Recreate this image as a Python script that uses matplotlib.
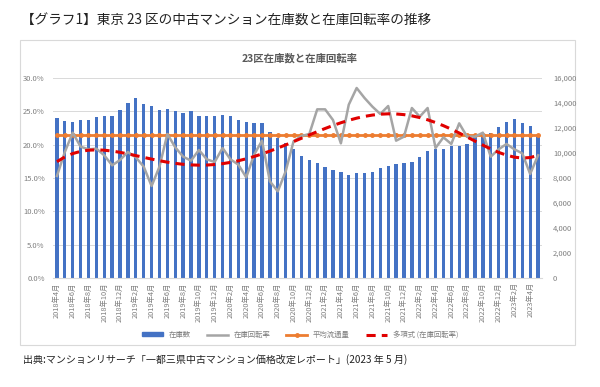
import numpy as np
import matplotlib
matplotlib.use("Agg")
import matplotlib.pyplot as plt
from matplotlib.patches import Rectangle
from matplotlib.lines import Line2D

plt.rcParams['font.family'] = ['Noto Sans CJK JP', 'DejaVu Sans']

# months 2018-04 .. 2023-05
months = []
y, m = 2018, 4
for i in range(62):
    months.append(f"{y}年{m}月")
    m += 1
    if m > 12:
        m = 1
        y += 1

# 在庫数 (right axis)
stock = [12780, 12560, 12510, 12670, 12640, 12880, 12990, 12990, 13470, 14030,
         14430, 13950, 13790, 13440, 13490, 13360, 13170, 13390, 12960, 12960,
         12960, 13070, 12960, 12670, 12450, 12430, 12370, 11710, 11170, 10800,
         10290, 9770, 9440, 9170, 8910, 8610, 8480, 8270, 8400, 8370,
         8480, 8800, 8960, 9120, 9170, 9280, 9680, 10190, 10350, 10350,
         10560, 10560, 10750, 11440, 11520, 11570, 12080, 12480, 12690, 12430,
         12160, 11300]

# 在庫回転率 (%)
rate = [15.3, 18.9, 21.8, 19.7, 19.3, 19.4, 18.4, 16.9, 17.7, 18.9,
        18.1, 16.7, 13.8, 16.7, 21.6, 19.6, 18.2, 17.6, 19.2, 17.8,
        17.4, 19.5, 17.8, 17.0, 15.1, 18.5, 20.6, 14.5, 13.0, 16.0,
        20.5, 21.3, 21.6, 25.3, 25.3, 23.7, 20.2, 26.0, 28.5, 27.0,
        25.7, 24.6, 25.8, 20.6, 21.2, 25.5, 24.2, 25.5, 19.5, 21.1,
        20.1, 23.2, 21.2, 21.2, 21.8, 18.2, 19.3, 20.1, 19.3, 18.7,
        15.6, 18.4]

# 平均流通量 (right axis, constant)
avg_flow = 11420

x = np.arange(len(months))
# 多項式トレンド (6次)
trend = np.polyval(np.polyfit(x + 1, rate, 6), x + 1)

fig = plt.figure(figsize=(6, 3.87), dpi=100)

# chart frame
fig.patches.append(Rectangle((20 / 600, 1 - 345 / 387), 555 / 600, 305 / 387,
                             transform=fig.transFigure, facecolor='white',
                             edgecolor='#D9D9D9', linewidth=0.8, zorder=-10))

ax = fig.add_axes([53 / 600, 1 - 278 / 387, 489 / 600, 200 / 387])
ax2 = ax.twinx()
ax.set_zorder(ax2.get_zorder() + 1)
ax.patch.set_visible(False)
ax2.patch.set_visible(False)

# bars + average on right axis
for k in range(1, 7):
    ax2.axhline(16000 * k / 6, color='#D9D9D9', linewidth=0.7, zorder=0)
ax2.bar(x, stock, width=0.42, color='#4472C4', zorder=2)
ax2.plot(x, [avg_flow] * len(x), color='#ED7D31', linewidth=2, marker='o',
         markersize=2.5, zorder=3)
ax2.set_ylim(0, 16000)
ax2.set_yticks(np.arange(0, 16001, 2000))
ax2.set_yticklabels([f"{v:,}" for v in range(0, 16001, 2000)])

# turnover lines on left axis
ax.plot(x, rate, color='#A5A5A5', linewidth=1.8)
ax.plot(x, trend, color='#E00000', linewidth=2.2, linestyle=(0, (3, 2)))
ax.set_ylim(0, 30)
ax.set_yticks(np.arange(0, 31, 5))
ax.set_yticklabels([f"{v:.1f}%" for v in range(0, 31, 5)])
ax.set_xlim(-0.5, len(x) - 0.5)
ax.set_xticks(x[::2])
ax.set_xticklabels(months[::2], rotation=90)

for a in (ax, ax2):
    for s in a.spines.values():
        s.set_visible(False)
    a.tick_params(length=0, labelsize=5.5, labelcolor='#7F7F7F')
ax.spines['bottom'].set_visible(True)
ax.spines['bottom'].set_color('#D9D9D9')
ax.tick_params(axis='x', pad=3, labelsize=5.3)
ax.tick_params(axis='y', pad=6)
ax2.tick_params(axis='y', pad=8)

fig.text(300 / 600, 1 - 58 / 387, "23区在庫数と在庫回転率", ha='center',
         va='center', fontsize=7.5, color='#595959', fontweight='bold')

handles = [
    Rectangle((0, 0), 1, 1, color='#4472C4'),
    Line2D([], [], color='#A5A5A5', linewidth=1.8),
    Line2D([], [], color='#ED7D31', linewidth=2, marker='o', markersize=2.5),
    Line2D([], [], color='#E00000', linewidth=2.2, linestyle=(0, (3, 2))),
]
labels = ["在庫数", "在庫回転率", "平均流通量", "多項式 (在庫回転率)"]
leg = fig.legend(handles, labels, loc='center', bbox_to_anchor=(300 / 600, 1 - 335 / 387),
                 ncol=4, frameon=False, fontsize=5.3, handlelength=2.8,
                 handleheight=0.5, columnspacing=2.2)
for t in leg.get_texts():
    t.set_color('#7F7F7F')

fig.text(21 / 600, 1 - 21 / 387,
         "【グラフ1】東京 23 区の中古マンション在庫数と在庫回転率の推移",
         ha='left', va='center', fontsize=9.8, color='#222222')
fig.text(23 / 600, 1 - 360 / 387,
         "出典:マンションリサーチ「一都三県中古マンション価格改定レポート」(2023 年 5 月)",
         ha='left', va='center', fontsize=7.2, color='#222222')

fig.savefig("out.png", dpi=100)
